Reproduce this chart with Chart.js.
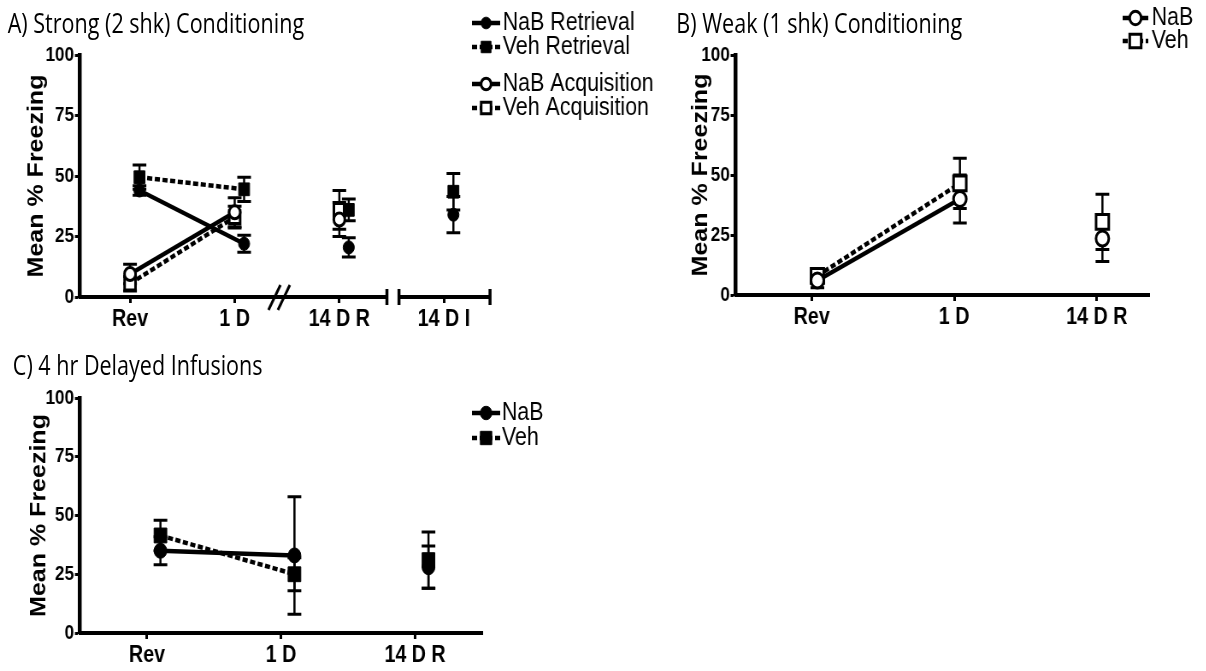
<!DOCTYPE html>
<html>
<head>
<meta charset="utf-8">
<script src="https://cdn.jsdelivr.net/npm/chart.js@4.4.1/dist/chart.umd.min.js"></script>
<style>
  html, body { margin: 0; padding: 0; background: #fff; overflow: hidden; }
  #figura { position: absolute; left: 0; top: 0; width: 1411px; height: 671px; transform: scaleX(0.855); transform-origin: 0 0; }
  .painel { position: absolute; }
  .titulo { position: absolute; font-family: 'Open Sans', 'Noto Sans', sans-serif; font-size: 28px; line-height: 28px; color: #000; white-space: nowrap; transform: scaleX(0.9); transform-origin: 0 0; }
</style>
</head>
<body>
<div id="figura">
  <div class="titulo" style="left:9px; top:8px;">A) Strong (2 shk) Conditioning</div>
  <div class="titulo" style="left:791px; top:8px;">B) Weak (1 shk) Conditioning</div>
  <div class="titulo" style="left:15px; top:350px;">C) 4 hr Delayed Infusions</div>
  <canvas id="graficoA" class="painel" width="780" height="340" style="left:0; top:0;"></canvas>
  <canvas id="graficoB" class="painel" width="629" height="340" style="left:781px; top:0;"></canvas>
  <canvas id="graficoC" class="painel" width="655" height="326" style="left:0; top:345px;"></canvas>
</div>
<script>
// A) condicionamento forte
const categoriasA = ['Rev', '1 D', '14 D R', '14 D I'];
const nabRetrievalA = [44, 22, 20.5, 34];
const nabRetrievalErrA = [2, 3.5, 4, 7.5];
const vehRetrievalA = [49.5, 44.5, 36, 43.5];
const vehRetrievalErrA = [5, 5, 4.5, 7.5];
const nabAcquisitionA = [9.5, 35, 32, null];
const nabAcquisitionErrA = [4, 6, 7, null];
const vehAcquisitionA = [5.5, 33, 36, null];
const vehAcquisitionErrA = [3, 4.5, 8, null];

// B) condicionamento fraco
const categoriasB = ['Rev', '1 D', '14 D R'];
const nabB = [6, 40, 23.5];
const nabErrB = [3, 10, 9.5];
const vehB = [8, 46.5, 30.5];
const vehErrB = [3, 10.5, 11.5];

// C) infusões com 4 h de atraso
const categoriasC = ['Rev', '1 D', '14 D R'];
const nabC = [35, 33, 28];
const nabErrC = [6, 25, 9];
const vehC = [41.5, 25, 31];
const vehErrC = [6.5, 7, 12];

const yTicks = [0, 25, 50, 75, 100];

Chart.defaults.font.family = "'Liberation Sans', Arial, sans-serif";
Chart.defaults.color = '#000';

const PRETO = '#000';
const TRACO = [6, 3];
const FONTE_LEGENDA = "25px 'Liberation Sans', Arial, sans-serif";

// barras de erro (média ± EPM), desenhadas por baixo das linhas e marcadores
const barrasDeErro = {
    id: 'barrasDeErro',
    beforeDatasetsDraw(chart, args, opts) {
        const ctx = chart.ctx;
        const escalaY = chart.scales.y;
        ctx.save();
        ctx.strokeStyle = PRETO;
        chart.data.datasets.forEach((ds, i) => {
            const meta = chart.getDatasetMeta(i);
            ds.data.forEach((p, j) => {
                const e = ds.erros[j];
                if (p.y == null || e == null) return;
                const px = meta.data[j].x;
                const yTopo = escalaY.getPixelForValue(p.y + e);
                const yBase = escalaY.getPixelForValue(p.y - e);
                ctx.lineWidth = opts.espessura;
                ctx.beginPath();
                ctx.moveTo(px, yTopo);
                ctx.lineTo(px, yBase);
                ctx.stroke();
                ctx.lineWidth = opts.espessuraCapa;
                ctx.beginPath();
                ctx.moveTo(px - opts.capa, yTopo);
                ctx.lineTo(px + opts.capa, yTopo);
                ctx.moveTo(px - opts.capa, yBase);
                ctx.lineTo(px + opts.capa, yBase);
                ctx.stroke();
            });
        });
        ctx.restore();
    }
};

function desenharMarcador(ctx, ds, x, y) {
    const r = ds.pointRadius;
    ctx.save();
    ctx.fillStyle = ds.pointBackgroundColor;
    ctx.strokeStyle = PRETO;
    ctx.lineWidth = ds.pointBorderWidth;
    ctx.setLineDash([]);
    ctx.beginPath();
    if (ds.pointStyle === 'rect') {
        const m = r * Math.SQRT1_2;
        ctx.rect(x - m, y - m, 2 * m, 2 * m);
    } else {
        ctx.arc(x, y, r, 0, Math.PI * 2);
    }
    ctx.fill();
    ctx.stroke();
    ctx.restore();
}

// legenda com traço + marcador, como no GraphPad
const legenda = {
    id: 'legenda',
    afterDraw(chart, args, opts) {
        if (!opts.linhas) return;
        const ctx = chart.ctx;
        chart.data.datasets.forEach((ds, i) => {
            const y = opts.linhas[i];
            ctx.save();
            ctx.strokeStyle = PRETO;
            ctx.lineWidth = ds.borderWidth;
            ctx.setLineDash(ds.borderDash || []);
            ctx.beginPath();
            ctx.moveTo(opts.x, y);
            ctx.lineTo(opts.x + opts.largura, y);
            ctx.stroke();
            ctx.restore();
            desenharMarcador(ctx, Object.assign({}, ds, { pointRadius: ds.pointRadius * 0.9 }), opts.x + opts.largura / 2, y);
            ctx.save();
            ctx.fillStyle = PRETO;
            ctx.font = opts.fonte;
            ctx.textBaseline = 'middle';
            ctx.fillText(ds.label, opts.textoX, y);
            ctx.restore();
        });
    }
};

// eixo x interrompido do painel A
const eixoQuebrado = {
    id: 'eixoQuebrado',
    afterDraw(chart, args, opts) {
        if (!opts.trechos) return;
        const ctx = chart.ctx;
        const escalaX = chart.scales.x;
        const yb = chart.chartArea.bottom;
        ctx.save();
        ctx.strokeStyle = PRETO;
        ctx.lineWidth = 4;
        opts.trechos.forEach(([a, b], k) => {
            const xa = k === 0 ? chart.chartArea.left - 2 : escalaX.getPixelForValue(a);
            const xb = escalaX.getPixelForValue(b);
            ctx.beginPath();
            ctx.moveTo(xa, yb);
            ctx.lineTo(xb, yb);
            ctx.stroke();
        });
        ctx.lineWidth = 3.5;
        opts.pontas.forEach(v => {
            const px = escalaX.getPixelForValue(v);
            ctx.beginPath();
            ctx.moveTo(px, yb - 8);
            ctx.lineTo(px, yb + 8);
            ctx.stroke();
        });
        ctx.lineWidth = 3;
        opts.cortes.forEach(v => {
            const px = escalaX.getPixelForValue(v);
            ctx.beginPath();
            ctx.moveTo(px - 7, yb + 13);
            ctx.lineTo(px + 7, yb - 12);
            ctx.stroke();
        });
        ctx.restore();
    }
};

function serie(label, valores, erros, estilo, deslocamento) {
    const cheio = estilo.cheio;
    return {
        label,
        data: valores.map((v, i) => ({ x: i + 1 + deslocamento, y: v })),
        erros,
        borderColor: PRETO,
        borderWidth: estilo.linha,
        borderDash: estilo.tracejado ? TRACO : [],
        pointStyle: estilo.forma,
        pointRadius: estilo.raio,
        pointBackgroundColor: cheio ? PRETO : '#fff',
        pointBorderColor: PRETO,
        pointBorderWidth: cheio ? 1 : 3,
        clip: false,
        spanGaps: false,
        // só Rev -> 1 D é ligado por linha
        segment: { borderColor: c => (c.p0DataIndex >= 1 ? 'rgba(0,0,0,0)' : PRETO) }
    };
}

function montarGrafico(id, cfg) {
    const grade = { display: true, drawOnChartArea: false, drawTicks: true, tickLength: 6, tickWidth: 3, tickColor: PRETO, color: PRETO };
    return new Chart(document.getElementById(id), {
        type: 'line',
        data: { datasets: cfg.series },
        options: {
            responsive: false,
            animation: false,
            events: [],
            layout: { padding: cfg.padding },
            plugins: {
                legend: { display: false },
                tooltip: { enabled: false },
                barrasDeErro: { espessura: 2.5, espessuraCapa: 3, capa: 8 },
                legenda: cfg.legenda,
                eixoQuebrado: cfg.quebra || {}
            },
            scales: {
                x: {
                    type: 'linear',
                    min: cfg.xMin,
                    max: cfg.xMax,
                    afterFit: s => { s.height = cfg.alturaX; },
                    afterBuildTicks: s => { s.ticks = cfg.categorias.map((c, i) => ({ value: i + 1 })); },
                    ticks: {
                        callback: (v, i) => cfg.categorias[i],
                        font: { size: 23, weight: 'bold' },
                        color: PRETO,
                        padding: 3,
                        maxRotation: 0,
                        autoSkip: false
                    },
                    grid: grade,
                    border: { display: !cfg.quebra, width: 4, color: PRETO }
                },
                y: {
                    min: 0,
                    max: 100,
                    afterFit: s => { s.width = cfg.larguraY; },
                    afterBuildTicks: s => { s.ticks = yTicks.map(v => ({ value: v })); },
                    ticks: {
                        font: { family: "'Liberation Sans Narrow', 'Liberation Sans', sans-serif", size: 20, weight: 'bold' },
                        color: PRETO,
                        padding: 1
                    },
                    title: {
                        display: true,
                        text: 'Mean % Freezing',
                        font: { size: 25, weight: 'bold' },
                        color: PRETO,
                        padding: { top: cfg.tituloY, bottom: 0 }
                    },
                    grid: grade,
                    border: { display: true, width: 4.5, color: PRETO }
                }
            }
        },
        plugins: [barrasDeErro, legenda, eixoQuebrado]
    });
}

const circuloCheio = { forma: 'circle', raio: 6.5, cheio: true, linha: 4.5 };
const quadradoCheio = { forma: 'rect', raio: 9, cheio: true, linha: 4.5, tracejado: true };
const circuloAberto = { forma: 'circle', raio: 6.5, cheio: false, linha: 4.5 };
const quadradoAberto = { forma: 'rect', raio: 9, cheio: false, linha: 4.5, tracejado: true };

montarGrafico('graficoA', {
    categorias: categoriasA,
    series: [
        serie('NaB Retrieval', nabRetrievalA, nabRetrievalErrA, circuloCheio, 0.09),
        serie('Veh Retrieval', vehRetrievalA, vehRetrievalErrA, quadradoCheio, 0.09),
        serie('NaB Acquisition', nabAcquisitionA, nabAcquisitionErrA, circuloAberto, 0),
        serie('Veh Acquisition', vehAcquisitionA, vehAcquisitionErrA, quadradoAberto, 0)
    ],
    xMin: 0.522, xMax: 4.44,
    larguraY: 93.6, alturaX: 43, tituloY: 28,
    padding: { left: 0, top: 55, right: 206.9, bottom: 0 },
    legenda: { x: 552, largura: 33, textoX: 588, linhas: [23, 47, 84, 108], fonte: FONTE_LEGENDA },
    quebra: { trechos: [[0.522, 3.455], [3.57, 4.44]], pontas: [3.455, 3.57, 4.44], cortes: [2.38, 2.47] }
});

montarGrafico('graficoB', {
    categorias: categoriasB,
    series: [
        serie('NaB', nabB, nabErrB, Object.assign({}, circuloAberto, { raio: 7.5, linha: 4.5 }), 0.04),
        serie('Veh', vehB, vehErrB, Object.assign({}, quadradoAberto, { raio: 10.5, linha: 4.5 }), 0.04)
    ],
    xMin: 0.467, xMax: 3.372,
    larguraY: 79.5, alturaX: 45, tituloY: 24.5,
    padding: { left: 0, top: 55, right: 65.3, bottom: 0 },
    legenda: { x: 532, largura: 30, textoX: 566, linhas: [18, 41], fonte: FONTE_LEGENDA }
});

montarGrafico('graficoC', {
    categorias: categoriasC,
    series: [
        serie('NaB', nabC, nabErrC, Object.assign({}, circuloCheio, { raio: 7.5 }), 0.1),
        serie('Veh', vehC, vehErrC, Object.assign({}, quadradoCheio, { raio: 10.5 }), 0.1)
    ],
    xMin: 0.5, xMax: 3.507,
    larguraY: 93.6, alturaX: 38, tituloY: 31.5,
    padding: { left: 0, top: 53, right: 90.1, bottom: 0 },
    legenda: { x: 552, largura: 33, textoX: 587, linhas: [68, 93], fonte: FONTE_LEGENDA }
});
</script>
</body>
</html>
